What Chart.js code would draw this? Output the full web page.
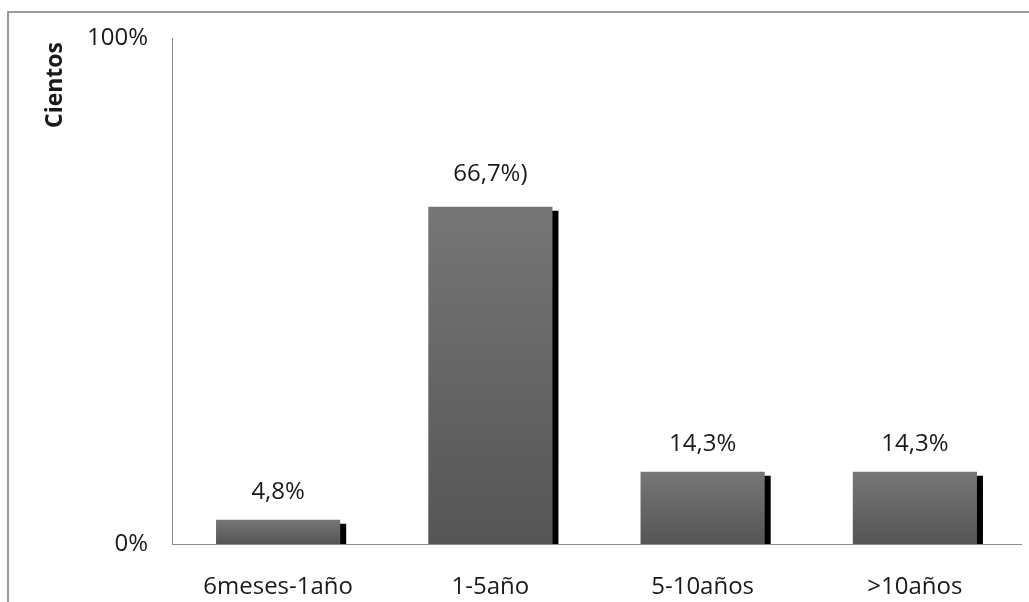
<!DOCTYPE html>
<html>
<head>
<meta charset="utf-8">
<script src="https://cdn.jsdelivr.net/npm/chart.js@4"></script>
<style>
    html, body { margin: 0; padding: 0; background: #fff; }
    #contenedor { width: 1029px; height: 602px; }
</style>
</head>
<body>
<div id="contenedor"><canvas id="grafico"></canvas></div>
<script>
let categorias = ['6meses-1año', '1-5año', '5-10años', '>10años']
let porcentajes = [4.8, 66.7, 14.3, 14.3]
let etiquetas = ['4,8%', '66,7%)', '14,3%', '14,3%']
let ticksY = [0, 100]

let fuente = "'Open Sans', sans-serif"
let colorTexto = '#1a1a1a'

// marco gris alrededor del grafico + texto "Cientos"
const marco = {
    id: 'marco',
    beforeDraw(chart) {
        let ctx = chart.ctx
        ctx.save()
        ctx.fillStyle = '#fff'
        ctx.fillRect(0, 0, chart.width, chart.height)
        ctx.strokeStyle = '#9a9a9a'
        ctx.lineWidth = 2
        ctx.strokeRect(8, 12, chart.width + 20, chart.height + 20)
        ctx.restore()
    },
    afterDraw(chart) {
        let ctx = chart.ctx
        ctx.save()
        ctx.translate(62, 85)
        ctx.rotate(-Math.PI / 2)
        ctx.font = "bold 23px " + fuente
        ctx.fillStyle = colorTexto
        ctx.textAlign = 'center'
        ctx.textBaseline = 'alphabetic'
        ctx.fillText('Cientos', 0, 0)
        ctx.restore()
    }
}

// sombra negra a la derecha de cada barra
const sombra = {
    id: 'sombra',
    beforeDatasetDraw(chart) {
        let ctx = chart.ctx
        ctx.save()
        ctx.shadowColor = '#000'
        ctx.shadowBlur = 0
        ctx.shadowOffsetX = 6
        ctx.shadowOffsetY = 4
    },
    afterDatasetDraw(chart) {
        chart.ctx.restore()
    }
}

// etiquetas encima de las barras
const etiquetasBarras = {
    id: 'etiquetasBarras',
    afterDatasetsDraw(chart) {
        let ctx = chart.ctx
        let meta = chart.getDatasetMeta(0)
        ctx.save()
        ctx.font = "24px " + fuente
        ctx.fillStyle = colorTexto
        ctx.textAlign = 'center'
        ctx.textBaseline = 'middle'
        meta.data.forEach((barra, i) => {
            let sep = i == 1 ? 33 : 28
            ctx.fillText(etiquetas[i], barra.x, barra.y - sep)
        })
        ctx.restore()
    }
}

function degradado(context) {
    let chart = context.chart
    if (!chart.chartArea || context.type !== 'data') return '#666'
    let y = chart.scales.y
    let arriba = y.getPixelForValue(context.raw)
    let abajo = y.getPixelForValue(0)
    let g = chart.ctx.createLinearGradient(0, arriba, 0, abajo)
    g.addColorStop(0, '#767676')
    g.addColorStop(1, '#555555')
    return g
}

const canvas = document.getElementById('grafico')

var grafico = new Chart(canvas, {
    type: 'bar',
    data: {
        labels: categorias,
        datasets: [
            {
                label: 'Cientos',
                data: porcentajes,
                backgroundColor: degradado,
                borderWidth: 0,
                barPercentage: 0.585,
                categoryPercentage: 1,
                clip: 0
            }
        ]
    },
    options: {
        responsive: true,
        maintainAspectRatio: false,
        animation: false,
        layout: {
            padding: { top: 33, right: 8, left: 0, bottom: 0 }
        },
        plugins: {
            legend: { display: false },
            tooltip: { enabled: false }
        },
        scales: {
            x: {
                grid: { display: false, drawTicks: false },
                border: { display: true, color: '#8c8c8c', width: 1 },
                ticks: {
                    padding: 29,
                    color: colorTexto,
                    font: { family: fuente, size: 24 },
                    maxRotation: 0
                },
                afterFit(scale) { scale.height = 58 }
            },
            y: {
                min: 0,
                max: 100,
                grid: { display: false, drawTicks: false },
                border: { display: true, color: '#8c8c8c', width: 1 },
                afterBuildTicks(scale) {
                    scale.ticks = ticksY.map(v => ({ value: v }))
                },
                ticks: {
                    padding: 24,
                    color: colorTexto,
                    font: { family: fuente, size: 24 },
                    callback: v => v + '%'
                },
                afterFit(scale) { scale.width = 172 }
            }
        }
    },
    plugins: [marco, sombra, etiquetasBarras]
})
</script>
</body>
</html>
